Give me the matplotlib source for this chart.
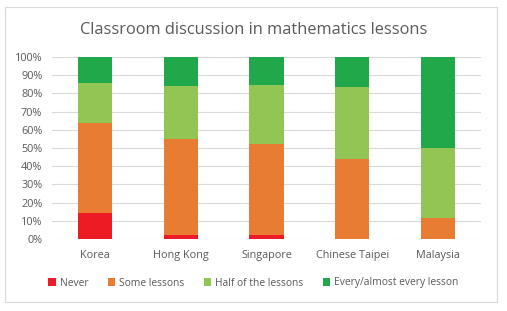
import numpy as np
import matplotlib
matplotlib.use("Agg")
import matplotlib.pyplot as plt
from matplotlib.patches import Rectangle
from matplotlib.ticker import PercentFormatter

countries = ["Korea", "Hong Kong", "Singapore", "Chinese Taipei", "Malaysia"]
never = [14.5, 2.2, 2.0, 0.0, 0.0]
some = [49.3, 52.7, 50.4, 43.7, 11.5]
half = [22.0, 29.0, 32.4, 39.6, 38.3]
every = [14.2, 16.1, 15.2, 16.7, 50.2]

series = [("Never", never, "#ED1C24"),
          ("Some lessons", some, "#E97C33"),
          ("Half of the lessons", half, "#92C553"),
          ("Every/almost every lesson", every, "#21A84A")]

plt.rcParams['font.family'] = ['Open Sans', 'DejaVu Sans']
txt = "#595959"

fig = plt.figure(figsize=(5.07, 3.11), dpi=100)
# chart frame, kept behind the axes
fig.patches.append(Rectangle((5/507, 1-302/311), 492/507, 295/311, transform=fig.transFigure,
                             facecolor="white", edgecolor="#D9D9D9", lw=0.8, zorder=-10))
ax = fig.add_axes([52/507, 1-239/311, 429/507, 182/311])
ax.set_facecolor("none")

x = np.arange(len(countries))
bottom = np.zeros(len(countries))
for name, vals, col in series:
    ax.bar(x, vals, width=0.4, bottom=bottom, color=col, label=name, zorder=3)
    bottom += np.array(vals)

ax.set_xlim(-0.5, len(countries) - 0.5)
ax.set_ylim(0, 100)
ax.set_yticks(np.arange(0, 101, 10))
ax.yaxis.set_major_formatter(PercentFormatter(decimals=0))
ax.set_xticks(x)
ax.set_xticklabels(countries)
ax.grid(axis="y", color="#D9D9D9", lw=0.8, zorder=0)
for s in ax.spines.values():
    s.set_visible(False)
ax.tick_params(length=0, colors=txt, labelsize=7.8)
ax.tick_params(axis="x", pad=8)
ax.tick_params(axis="y", pad=7)

fig.text(0.5, 1-30/311, "Classroom discussion in mathematics lessons", ha="center", va="center",
         fontsize=11.8, color=txt)
ax.legend(loc="center", bbox_to_anchor=(0.5, 1-283/311), bbox_transform=fig.transFigure,
          ncol=4, frameon=False, fontsize=7.4, labelcolor=txt, handlelength=0.7, handleheight=0.7,
          handletextpad=0.4, columnspacing=1.9)

fig.savefig("out.png", dpi=100)
